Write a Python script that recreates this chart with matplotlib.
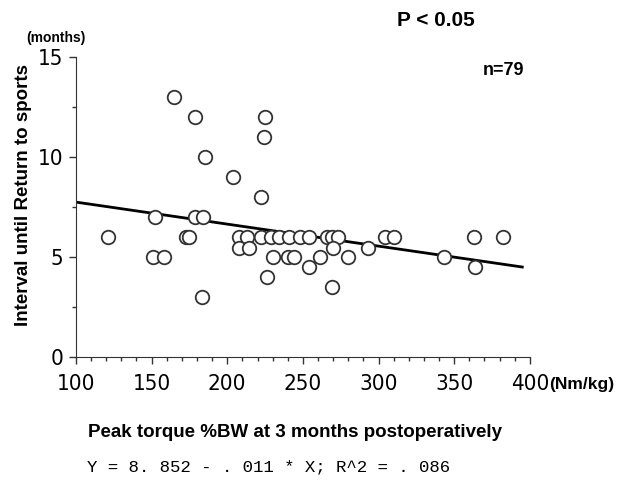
import matplotlib
matplotlib.use("Agg")
import matplotlib.pyplot as plt
import numpy as np
from matplotlib.ticker import MultipleLocator

# peak torque (%BW) and months until return to sports
torque = [121, 173, 175, 208, 213, 222, 229, 234, 241, 248, 254, 266, 269, 273, 304, 310, 363, 382,
          208, 214.5, 270, 293,
          151, 158, 230, 240, 244, 261, 280, 343,
          254, 364,
          226, 269, 183.5,
          152, 179, 184,
          222, 204, 185, 224, 179, 225, 165]
months = [6, 6, 6, 6, 6, 6, 6, 6, 6, 6, 6, 6, 6, 6, 6, 6, 6, 6,
          5.45, 5.45, 5.45, 5.45,
          5, 5, 5, 5, 5, 5, 5, 5,
          4.5, 4.5,
          4, 3.5, 3,
          7, 7, 7,
          8, 9, 10, 11, 12, 12, 13]

intercept = 8.852
slope = -0.011
line_x = [100, 395]

fig = plt.figure(figsize=(6.33, 4.84), dpi=100)
ax = fig.add_axes([0.120, 0.262, 0.717, 0.620])

lx = np.array(line_x)
ax.plot(lx, intercept + slope * lx, color='black', lw=2.0, zorder=2)
ax.scatter(torque, months, s=95, facecolors='white', edgecolors='#333333',
           linewidths=1.3, zorder=3)

ax.set_xlim(100, 400)
ax.set_ylim(0, 15)
ax.spines['top'].set_visible(False)
ax.spines['right'].set_visible(False)
ax.spines['left'].set_color('#333333')
ax.spines['bottom'].set_color('#333333')

ax.set_xticks(np.arange(100, 401, 50))
ax.xaxis.set_minor_locator(MultipleLocator(10))
ax.set_yticks([0, 5, 10, 15])
ax.yaxis.set_minor_locator(MultipleLocator(2.5))
ax.tick_params(axis='both', which='major', length=5, width=1, color='#333333',
               labelsize=16)
ax.tick_params(axis='x', which='major', pad=7)
ax.tick_params(axis='y', which='major', pad=4)
ax.tick_params(axis='both', which='minor', length=3, width=1, color='#333333')
for lab in ax.get_xticklabels() + ax.get_yticklabels():
    lab.set_family('DejaVu Sans')
    lab.set_stretch('condensed')

ax.set_ylabel('Interval until Return to sports', fontsize=13.5, fontweight='bold',
              family='Liberation Sans')
ax.yaxis.set_label_coords(-0.097, 0.54)

fig.text(0.868, 0.205, '(Nm/kg)', fontsize=12.5, fontweight='bold',
         family='Liberation Sans', ha='left', va='center')
fig.text(0.088, 0.922, '(months)', fontsize=10, fontweight='bold',
         family='Liberation Sans', ha='center', va='center')
fig.text(0.688, 0.958, 'P < 0.05', fontsize=15, fontweight='bold',
         family='Liberation Sans', ha='center', va='center')
fig.text(0.795, 0.855, 'n=79', fontsize=13, fontweight='bold',
         family='Liberation Sans', ha='center', va='center')
fig.text(0.466, 0.107, 'Peak torque %BW at 3 months postoperatively', fontsize=13.5,
         fontweight='bold', family='Liberation Sans', ha='center', va='center')
fig.text(0.138, 0.035, 'Y = 8. 852 - . 011 * X; R^2 = . 086', fontsize=12.5,
         family='Liberation Mono', ha='left', va='center')

fig.savefig('out.png', dpi=100)
